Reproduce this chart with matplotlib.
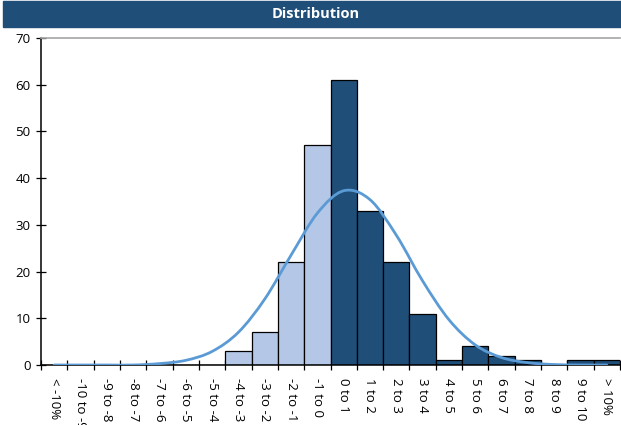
import matplotlib
matplotlib.use("Agg")
import matplotlib.pyplot as plt
from matplotlib.path import Path
from matplotlib.patches import PathPatch, Rectangle
import numpy as np

plt.rcParams['font.family'] = ['Open Sans', 'DejaVu Sans']

categories = ["< -10%", "-10 to -9", "-9 to -8", "-8 to -7", "-7 to -6", "-6 to -5",
              "-5 to -4", "-4 to -3", "-3 to -2", "-2 to -1", "-1 to 0", "0 to 1",
              "1 to 2", "2 to 3", "3 to 4", "4 to 5", "5 to 6", "6 to 7", "7 to 8",
              "8 to 9", "9 to 10", "> 10%"]
counts = [0, 0, 0, 0, 0, 0, 0, 3, 7, 22, 47, 61, 33, 22, 11, 1, 4, 2, 1, 0, 1, 1]
curve = [0.0, 0.0, 0.0, 0.0, 0.3, 1.0, 2.9, 7.0, 14.1, 23.5, 32.5, 37.3, 35.4,
         27.8, 18.0, 9.7, 4.3, 1.6, 0.5, 0.1, 0.0, 0.0]
negative = [c.startswith("<") or c.startswith("-") for c in categories]
yticks = [0, 10, 20, 30, 40, 50, 60, 70]

DARK = "#1F4E79"
LIGHT = "#B4C7E7"
LINE = "#5B9BD5"

fig = plt.figure(figsize=(6.21, 4.25), dpi=100)
W, H = 621, 425

# title bar
fig.patches.append(Rectangle((3 / W, 1 - 27 / H), 1 - 3 / W, 26 / H,
                             transform=fig.transFigure, color=DARK, zorder=0))
fig.text(316 / W, 1 - 14 / H, "Distribution", color="white", fontsize=10.5,
         fontweight="bold", ha="center", va="center")

ax = fig.add_axes([41 / W, 1 - 365 / H, (620 - 41) / W, (365 - 38) / H])
x = np.arange(len(categories))
colors = [LIGHT if n else DARK for n in negative]
ax.bar(x, counts, width=1.0, color=colors, edgecolor="black", linewidth=0.9, zorder=2)

# smooth line through curve points (Catmull-Rom -> Bezier)
pts = np.column_stack([x, curve]).astype(float)
verts = [tuple(pts[0])]
codes = [Path.MOVETO]
n = len(pts)
for i in range(n - 1):
    p0 = pts[i - 1] if i > 0 else pts[i]
    p1 = pts[i]
    p2 = pts[i + 1]
    p3 = pts[i + 2] if i + 2 < n else pts[i + 1]
    c1 = p1 + (p2 - p0) / 6.0
    c2 = p2 - (p3 - p1) / 6.0
    verts += [tuple(c1), tuple(c2), tuple(p2)]
    codes += [Path.CURVE4] * 3
ax.add_patch(PathPatch(Path(verts, codes), facecolor="none", edgecolor=LINE,
                       linewidth=2.0, zorder=3, capstyle="round"))

ax.set_xlim(-0.5, len(categories) - 0.5)
ax.set_ylim(0, 70)
ax.set_yticks(yticks)
ax.set_xticks(x)
ax.set_xticklabels(categories, rotation=270, fontsize=9.5, va="top", ha="center")
ax.set_xticks(np.arange(len(categories) + 1) - 0.5, minor=True)
ax.tick_params(axis="x", which="major", length=0, pad=9)
ax.tick_params(axis="x", which="minor", length=7, direction="inout", width=0.9)
ax.tick_params(axis="y", length=7, direction="inout", width=0.9, labelsize=9.5, pad=4)

ax.spines["right"].set_visible(False)
ax.spines["top"].set_color("#A6A6A6")
ax.spines["top"].set_linewidth(1.2)
ax.spines["left"].set_linewidth(1.1)
ax.spines["bottom"].set_linewidth(1.1)

fig.savefig("out.png", dpi=100)
